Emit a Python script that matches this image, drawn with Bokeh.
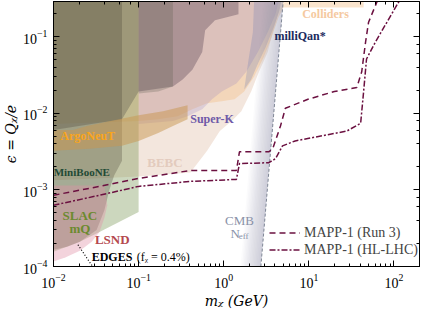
from bokeh.plotting import figure
from bokeh.models import LogAxis, Label, Legend, LegendItem, Range1d
from bokeh.embed import file_html
from bokeh.resources import INLINE

# ---------------- data ----------------
X_RANGE = (0.01, 199.5)
Y_RANGE = (1e-4, 0.287)

RUN3_M = [0.01, 0.0347, 0.1, 0.406, 1.41, 1.53, 3.38, 3.76, 4.64, 5.3, 9.75, 19.9, 36.6, 41.8, 46.4, 50.3, 65.5, 75.0]
RUN3_EPS = [8.5e-4, 1.11e-3, 1.41e-3, 1.79e-3, 1.79e-3, 3.14e-3, 3.14e-3, 3.43e-3, 6.8e-3, 0.0116, 0.0152, 0.0192, 0.0216, 0.0348, 0.085, 0.154, 0.314, 0.45]

HL_M = [0.01, 0.0347, 0.1, 0.406, 1.41, 1.53, 3.38, 4.06, 4.9, 6.9, 28, 40.6, 44, 47.6, 60.5, 120, 140]
HL_EPS = [6.3e-4, 8.5e-4, 1.11e-3, 1.29e-3, 1.37e-3, 2.2e-3, 2.26e-3, 2.55e-3, 3.75e-3, 4.35e-3, 5.86e-3, 7.4e-3, 0.0192, 0.051, 0.085, 0.314, 0.4]

BEBC_M = [0.01, 5.02, 4.40, 3.76, 3.29, 2.59, 2.10, 1.61, 1.24, 0.900, 0.638, 0.406, 0.1, 0.01]
BEBC_EPS = [0.4, 0.4, 0.207, 0.114, 0.0631, 0.0348, 0.0192, 0.0106, 0.00789, 0.00586, 0.00323, 0.00168, 0.00149, 0.00133]

COLL_M = [0.01, 44, 44, 5.02, 4.40, 3.66, 2.96, 2.27, 1.74, 1.34, 0.949, 0.638, 0.428, 0.288, 0.170, 0.1, 0.01]
COLL_EPS = [0.4, 0.4, 0.240, 0.240, 0.179, 0.0986, 0.0543, 0.0300, 0.0192, 0.0152, 0.0143, 0.01346, 0.01128, 0.00914, 0.00837, 0.00789, 0.00721]

SK_M = [0.1, 4.76, 4.06, 3.29, 2.52, 1.84, 1.41, 0.949, 0.728, 0.559, 0.376, 0.253, 0.1]
SK_EPS = [0.4, 0.4, 0.195, 0.114, 0.0631, 0.0348, 0.0244, 0.0192, 0.0152, 0.01128, 0.00914, 0.00789, 0.00721]

MQ_M = [2.3, 5.02, 4.52, 3.86, 3.12, 2.52, 2.10, 1.74, 1.94, 2.2]
MQ_EPS = [0.4, 0.4, 0.220, 0.1327, 0.0733, 0.0442, 0.0275, 0.0204, 0.0469, 0.114]

MAUVE_M = [0.01, 1.49, 1.49, 0.789, 0.605, 0.559, 0.428, 0.329, 0.253, 0.1, 0.0638, 0.01]
MAUVE_EPS = [0.4, 0.4, 0.195, 0.163, 0.1214, 0.0631, 0.0370, 0.0275, 0.0223, 0.0192, 0.00837, 0.00604]

STRIP_M = [0.1, 0.253, 0.253, 0.170, 0.1]
STRIP_EPS = [0.4, 0.4, 0.0223, 0.0192, 0.0181]

ARGO_M = [0.01, 0.0170, 0.0246, 0.0589, 0.1, 0.194, 0.376, 0.376, 0.253, 0.170, 0.1, 0.0638, 0.0266, 0.01]
ARGO_EPS = [0.00604, 0.00604, 0.00680, 0.00837, 0.00942, 0.0106, 0.01268, 0.00837, 0.00680, 0.00552, 0.00435, 0.00375, 0.00343, 0.00323]

SLAC_M = [0.01, 0.1, 0.1, 0.0589, 0.0347, 0.0204, 0.01]
SLAC_EPS = [0.4, 0.4, 5.13e-4, 3.81e-4, 2.83e-4, 2.10e-4, 1.56e-4]

MB_M = [0.01, 0.0638, 0.0638, 0.0516, 0.0452, 0.0396, 0.0321, 0.0204, 0.01449, 0.01]
MB_EPS = [0.4, 0.4, 0.00240, 0.00154, 0.000986, 0.000544, 0.000300, 0.000210, 0.000181, 0.000166]

LSND_M = [0.01, 0.0396, 0.0428, 0.0396, 0.0347, 0.0281, 0.0204, 0.01374, 0.01]
LSND_EPS = [0.00114, 0.00114, 0.000631, 0.000428, 0.000283, 0.000210, 0.000161, 0.000131, 0.000116]

CMB_M = [2.73, 5.12]
CMB_EPS = [1e-4, 0.4]

EDGES_M = [0.0194, 0.0307]
EDGES_EPS = [1.92e-4, 9e-5]

# ---------------- figure ----------------
p = figure(width=420, height=311, x_axis_type="log", y_axis_type="log",
           x_range=Range1d(*X_RANGE), y_range=Range1d(*Y_RANGE),
           output_backend="svg", toolbar_location=None,
           min_border_left=45, min_border_right=1, min_border_top=1, min_border_bottom=42)
p.background_fill_color = "white"
p.outline_line_color = "black"
p.outline_line_width = 1
p.xgrid.visible = False
p.ygrid.visible = False

regions = [
    (BEBC_M, BEBC_EPS, "#f0e0d4", 0.8),
    (COLL_M, COLL_EPS, "#f5c490", 0.45),
    (SK_M, SK_EPS, "#8c78be", 0.22),
    (MQ_M, MQ_EPS, "#6478b4", 0.25),
    (MAUVE_M, MAUVE_EPS, "#705c69", 0.45),
    (STRIP_M, STRIP_EPS, "#545846", 0.25),
    (SLAC_M, SLAC_EPS, "#6e8c46", 0.35),
    (MB_M, MB_EPS, "#4b4437", 0.3),
    (LSND_M, LSND_EPS, "#e090a8", 0.4),
    (ARGO_M, ARGO_EPS, "#c89650", 0.5),
]
for xs, ys, col, a in regions:
    p.patch(xs, ys, fill_color=col, fill_alpha=a, line_color=None)

# CMB N_eff gradient (stacked translucent strips to the left of the boundary)
n_strips = 14
for k in range(1, n_strips + 1):
    shift = 10 ** (-0.017 * k)
    xs = [m * shift for m in CMB_M] + CMB_M[::-1]
    ys = CMB_EPS + CMB_EPS[::-1]
    p.patch(xs, ys, fill_color="#8f98ad", fill_alpha=0.04, line_color=None)
p.line(CMB_M, CMB_EPS, line_color="#7f8796", line_width=1, line_dash="3 2")

# EDGES
p.line(EDGES_M, EDGES_EPS, line_color="black", line_width=1.2, line_dash="1 2")

# MAPP curves
r1 = p.line(RUN3_M, RUN3_EPS, line_color="#6b1040", line_width=1.5, line_dash="6 4")
r2 = p.line(HL_M, HL_EPS, line_color="#6b1040", line_width=1.5, line_dash="6 2 2 2")

# axes styling
def style_axis(ax, labels=True):
    ax.axis_line_color = "black"
    ax.major_tick_in = 6
    ax.major_tick_out = 0
    ax.minor_tick_in = 3
    ax.minor_tick_out = 0
    ax.major_tick_line_color = "black"
    ax.minor_tick_line_color = "black"
    if labels:
        ax.major_label_text_font = "Liberation Serif"
        ax.major_label_text_font_size = "14px"
        ax.major_label_text_color = "black"
    else:
        ax.major_label_text_font_size = "1px"
        ax.major_label_text_alpha = 0
        ax.major_label_standoff = 0

style_axis(p.xaxis[0])
style_axis(p.yaxis[0])
p.xaxis.axis_label = "mᵪ (GeV)"
p.yaxis.axis_label = "ϵ = Qᵪ/e"
for ax in (p.xaxis[0], p.yaxis[0]):
    ax.axis_label_text_font = "DejaVu Serif"
    ax.axis_label_text_font_style = "italic"
    ax.axis_label_text_font_size = "14px"
    ax.axis_label_text_color = "black"
p.xaxis[0].major_label_standoff = 7
p.xaxis[0].axis_label_standoff = 2
p.yaxis[0].major_label_standoff = 6
p.yaxis[0].axis_label_standoff = 1

ra = LogAxis()
style_axis(ra, labels=False)
p.add_layout(ra, "right")
ta = LogAxis()
style_axis(ta, labels=False)
p.add_layout(ta, "above")

# region labels
def lab(x, y, text, color, size="12px", style="bold", align="center", font="Liberation Serif"):
    p.add_layout(Label(x=x, y=y, text=text, text_color=color, text_font=font,
                       text_font_style=style, text_font_size=size,
                       text_align=align, text_baseline="middle"))

lab(15.7, 0.195, "Colliders", "#f5c9a0")
lab(7.89, 0.1014, "milliQan*", "#1c2b5e")
lab(0.728, 0.00837, "Super-K", "#6f5aa8")
lab(0.0252, 0.00505, "ArgoNeuT", "#f9a51c")
lab(0.0215, 0.00173, "MiniBooNE", "#1f4a35", size="11px")
lab(0.204, 0.00227, "BEBC", "#e3cbbd", size="13px")
lab(0.0204, 4.69e-4, "SLAC", "#6b8a2e", size="13px")
lab(0.0204, 3.09e-4, "mQ", "#6b8a2e", size="13px")
lab(0.049, 2.23e-4, "LSND", "#b4484e", size="13px")
lab(1.53, 4.04e-4, "CMB", "#8a92a8", size="13px", style="normal")
lab(1.36, 2.67e-4, "N", "#8a92a8", size="13px", style="normal")
lab(1.50, 2.5e-4, "eff", "#8a92a8", size="9px", style="normal", align="left")
lab(0.0281, 1.345e-4, "EDGES", "black", size="12px", align="left")
lab(0.0948, 1.345e-4, "(fᵪ = 0.4%)", "black", size="12px", style="normal", align="left")

legend = Legend(items=[LegendItem(label="MAPP-1 (Run 3)", renderers=[r1]),
                       LegendItem(label="MAPP-1 (HL-LHC)", renderers=[r2])],
                location=(216, 8), orientation="vertical",
                background_fill_alpha=0, border_line_alpha=0,
                label_text_font="Liberation Serif", label_text_font_size="14px",
                glyph_width=31, glyph_height=17, label_height=17,
                spacing=0, padding=0, margin=0, label_standoff=4)
p.add_layout(legend)

open("out.html", "w").write(file_html(p, INLINE))
